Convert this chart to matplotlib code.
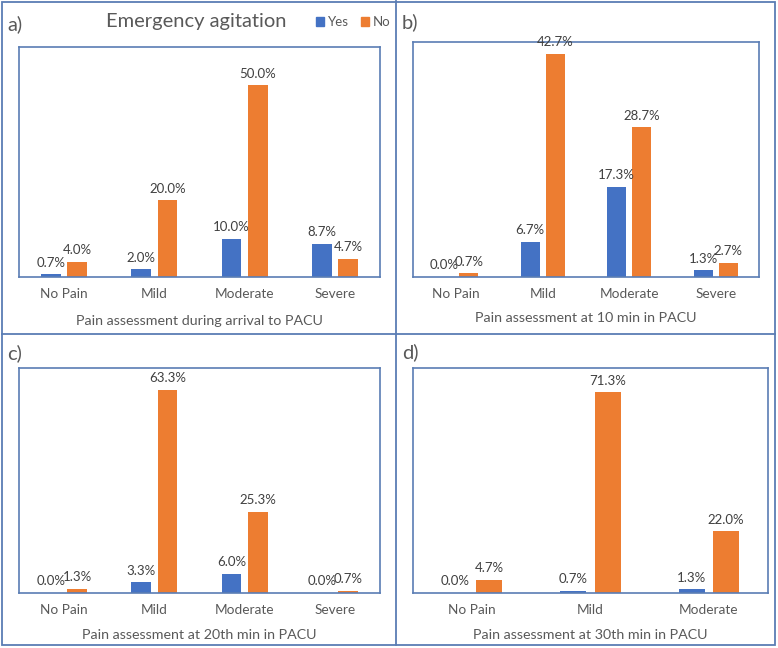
import numpy as np
import matplotlib
matplotlib.use("Agg")
import matplotlib.pyplot as plt
from matplotlib.patches import Patch, Rectangle
from matplotlib.lines import Line2D

plt.rcParams['font.family'] = ['Lato', 'DejaVu Sans']

W, H = 778, 648

cats4 = ["No Pain", "Mild", "Moderate", "Severe"]
cats3 = ["No Pain", "Mild", "Moderate"]

yes_a = [0.7, 2.0, 10.0, 8.7]
no_a = [4.0, 20.0, 50.0, 4.7]
yes_b = [0.0, 6.7, 17.3, 1.3]
no_b = [0.7, 42.7, 28.7, 2.7]
yes_c = [0.0, 3.3, 6.0, 0.0]
no_c = [1.3, 63.3, 25.3, 0.7]
yes_d = [0.0, 0.7, 1.3]
no_d = [4.7, 71.3, 22.0]

titles = ["Pain assessment during arrival to PACU",
          "Pain assessment at 10 min in PACU",
          "Pain assessment at 20th min in PACU",
          "Pain assessment at 30th min in PACU"]
letters = ["a)", "b)", "c)", "d)"]

BLUE = "#4472C4"
ORANGE = "#ED7D31"
FRAME = "#5A7DB4"
GRAY = "#595959"
DARK = "#404040"


def fx(x):
    return x / W


def fy(y):
    return 1 - y / H


fig = plt.figure(figsize=(W / 100, H / 100), dpi=100)

# outer grid of panel borders
border = dict(color=FRAME, lw=1.3, transform=fig.transFigure)
fig.add_artist(Rectangle((fx(2), fy(645)), fx(773), (643) / H, fill=False,
                         edgecolor=FRAME, lw=1.3, transform=fig.transFigure))
fig.add_artist(Line2D([fx(396), fx(396)], [fy(1), fy(645)], **border))
fig.add_artist(Line2D([fx(2), fx(775)], [fy(334), fy(334)], **border))

# (pixel box, ymax, categories, yes, no, title y, letter pos)
panels = [
    ((19, 47, 380, 277), 60, cats4, yes_a, no_a, 321, (7, 24)),
    ((413, 42, 759, 277), 45, cats4, yes_b, no_b, 318, (402, 22)),
    ((19, 368, 380, 593), 70, cats4, yes_c, no_c, 635, (7, 353)),
    ((413, 368, 768, 593), 80, cats3, yes_d, no_d, 635, (402, 352)),
]

for i, (box, ymax, cats, yes, no, ty, lp) in enumerate(panels):
    x0, y0, x1, y1 = box
    ax = fig.add_axes([fx(x0), fy(y1), (x1 - x0) / W, (y1 - y0) / H])
    x = np.arange(len(cats))
    w = 0.22
    off = 0.145
    b1 = ax.bar(x - off, yes, w, color=BLUE)
    b2 = ax.bar(x + off, no, w, color=ORANGE)
    for bars, vals in ((b1, yes), (b2, no)):
        for r, v in zip(bars, vals):
            ax.annotate(f"{v:.1f}%", (r.get_x() + r.get_width() / 2, v),
                        xytext=(0, 4), textcoords="offset points",
                        ha="center", va="bottom", fontsize=9.5, color=DARK)
    ax.set_xlim(-0.5, len(cats) - 0.5)
    ax.set_ylim(0, ymax)
    ax.set_yticks([])
    ax.set_xticks(x)
    ax.set_xticklabels(cats, fontsize=9.8, color=GRAY)
    ax.tick_params(axis="x", length=0, pad=8)
    for s in ax.spines.values():
        s.set_color(FRAME)
        s.set_linewidth(1.2)
    fig.text(fx((x0 + x1) / 2), fy(ty), titles[i], ha="center", va="center",
             fontsize=10.3, color=GRAY)
    fig.text(fx(lp[0]), fy(lp[1]), letters[i], ha="left", va="center",
             fontsize=14.5, color=GRAY)

fig.text(fx(196), fy(22), "Emergency agitation", ha="center", va="center",
         fontsize=14.5, color=GRAY)
handles = [Patch(color=BLUE, label="Yes"), Patch(color=ORANGE, label="No")]
fig.legend(handles=handles, loc="center", bbox_to_anchor=(fx(353), fy(22)),
           ncol=2, frameon=False, fontsize=9.5, handlelength=0.6,
           handleheight=0.6, handletextpad=0.3, columnspacing=0.9,
           labelcolor=GRAY)

fig.savefig("out.png", dpi=100)
